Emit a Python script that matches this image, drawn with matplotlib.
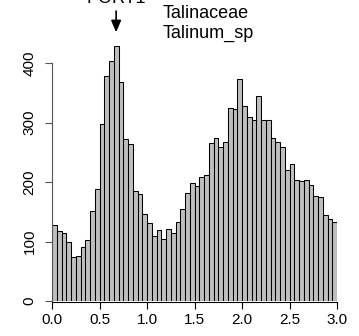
import matplotlib
matplotlib.use("Agg")
import matplotlib.pyplot as plt
import numpy as np

plt.rcParams['font.family'] = ['Liberation Sans', 'DejaVu Sans']

# Ks histogram, bins of 0.05 from 0 to 3
bin_width = 0.05
bin_starts = np.arange(60) * bin_width
counts = [127, 118, 114, 99, 74, 76, 91, 103, 151, 188,
          297, 378, 404, 428, 368, 272, 264, 185, 179, 146,
          131, 109, 120, 105, 121, 114, 132, 155, 181, 199,
          193, 208, 211, 265, 274, 259, 268, 324, 322, 373,
          328, 309, 304, 344, 304, 304, 274, 267, 259, 221,
          231, 203, 201, 203, 195, 176, 174, 144, 137, 133]
x_ticks = [0.0, 0.5, 1.0, 1.5, 2.0, 2.5, 3.0]
y_ticks = [0, 100, 200, 300, 400]
peak_label = "PORT1"
peak_ks = 0.675
family_name = "Talinaceae"
species_name = "Talinum_sp"

W, H = 359, 336
fig = plt.figure(figsize=(W / 100, H / 100), dpi=100)
left, right, bottom = 52, 337, 301
ymax = 450
px_per_unit = 59.5 / 100
height_px = ymax * px_per_unit
ax = fig.add_axes([left / W, (H - bottom) / H, (right - left) / W, height_px / H])

ax.bar(bin_starts, counts, width=bin_width, align='edge',
       color='#BEBEBE', edgecolor='black', linewidth=0.75)
ax.set_xlim(0, 3)
ax.set_ylim(0, ymax)

for s in ['top', 'right']:
    ax.spines[s].set_visible(False)
ax.spines['left'].set_bounds(0, 400)
ax.spines['left'].set_color('#555555')
ax.spines['bottom'].set_bounds(0, 3)
ax.spines['bottom'].set_position(('outward', 1))

ax.set_xticks(x_ticks)
ax.set_xticklabels([f"{v:.1f}" for v in x_ticks], fontsize=11)
ax.set_yticks(y_ticks)
ax.set_yticklabels([str(v) for v in y_ticks], fontsize=11, rotation=90, va='center')
ax.tick_params(axis='y', length=5, pad=6, color='#555555')
ax.tick_params(axis='x', length=5, pad=3)

# peak marker and labels
ax.annotate("", xy=(peak_ks, 447), xytext=(peak_ks, 492),
            arrowprops=dict(arrowstyle='-|>,head_length=0.7,head_width=0.3',
                            color='black', lw=1.2), annotation_clip=False)
ax.text(peak_ks, 501, peak_label, ha='center', va='baseline', fontsize=13, clip_on=False)
ax.text(1.168, 475, family_name, ha='left', va='baseline', fontsize=13, clip_on=False)
ax.text(1.168, 443, species_name, ha='left', va='baseline', fontsize=13, clip_on=False)

fig.savefig("out.png", dpi=100)
